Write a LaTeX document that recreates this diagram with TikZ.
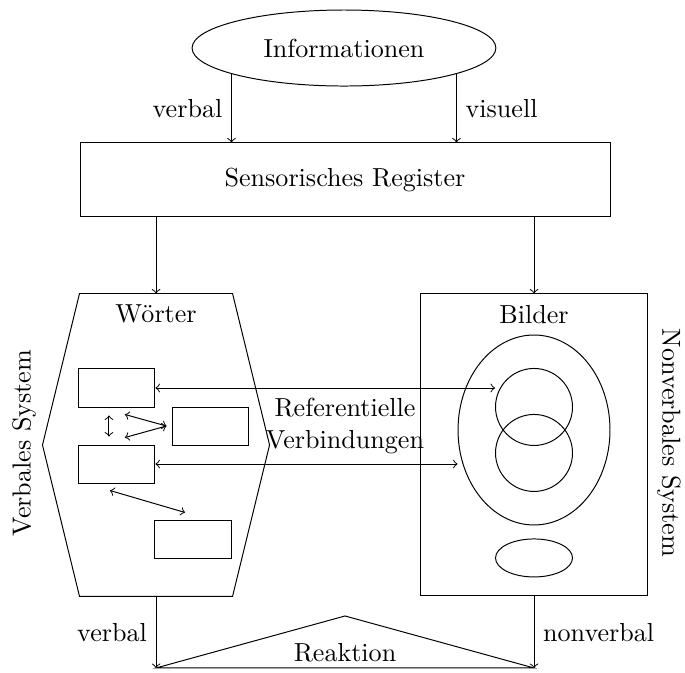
\documentclass[tikz,border=0pt]{standalone}
\usetikzlibrary{shapes.geometric, positioning}

\begin{document}
\fontsize{10.6pt}{12.7pt}\selectfont
\begin{tikzpicture}[
        wbox/.style={rectangle, draw, minimum width=1.086cm,
                     minimum height=0.543cm},
        sysbox/.style={rectangle, minimum width=3.23cm,
                     minimum height=4.314cm, inner sep=0pt},
        arr/.style={->},
        darr/.style={<->}
    ]
        \useasboundingbox (0,0) rectangle (9.786,-9.614);
        % oben
        \node[ellipse, draw, minimum width=4.34cm, minimum height=1.086cm] (info) at (4.914,-0.686) {Informationen};
        \node[rectangle, draw, minimum width=7.571cm, minimum height=1.057cm] (reg) at (4.929,-2.571) {Sensorisches Register};
        \draw[arr] (info.193) -- (info.193 |- reg.north) node[midway, left] {verbal};
        \draw[arr] (info.347) -- (info.347 |- reg.north) node[midway, right] {visuell};
        % die zwei Systeme
        \node[sysbox] (woerter) at (2.229,-6.357) {};
        \node[sysbox, draw] (bilder) at (7.629,-6.357) {};
        \draw (woerter.west) -- ([xshift=0.529cm]woerter.north west) -- ([xshift=-0.529cm]woerter.north east)
            -- (woerter.east) -- ([xshift=-0.529cm]woerter.south east) -- ([xshift=0.529cm]woerter.south west) -- cycle;
        \node[below=1pt of woerter.north] (wlabel) {Wörter};
        \node[below=1pt of bilder.north] (blabel) {Bilder};
        \draw[arr] (reg.south -| woerter.north) -- (woerter.north);
        \draw[arr] (reg.south -| bilder.north) -- (bilder.north);
        \node[rotate=90] (vsys) at (0.343,-6.329) {Verbales System};
        \node[rotate=-90] (nsys) at (9.557,-6.329) {Nonverbales System};
        % verbal
        \node[wbox] (w1) at (1.671,-5.543) {};
        \node[wbox] (w2) at (3.014,-6.086) {};
        \node[wbox] (w3) at (1.671,-6.629) {};
        \node[wbox] (w4) at (2.757,-7.714) {};
        \draw[darr] ([shift={(-0.114,-0.114)}]w1.south) -- ([shift={(-0.114,0.114)}]w3.north);
        \draw[darr] ([shift={(0.114,-0.1)}]w1.south) -- ([xshift=-0.086cm]w2.west);
        \draw[darr] ([shift={(0.114,0.1)}]w3.north) -- ([xshift=-0.086cm]w2.west);
        \draw[darr] ([shift={(-0.1,-0.1)}]w3.south) -- ([shift={(-0.114,0.114)}]w4.north);
        % nonverbal
        \node[ellipse, draw, minimum width=2.171cm, minimum height=2.714cm] (big) at (7.629,-6.143) {};
        \node[circle, draw, minimum size=1.1cm] (c1) at (7.629,-5.814) {};
        \node[circle, draw, minimum size=1.1cm] (c2) at (7.629,-6.471) {};
        \node[ellipse, draw, minimum width=1.1cm, minimum height=0.543cm] (small) at (7.629,-7.971) {};
        % referentielle Verbindungen
        \draw[darr] (w1.east) -- (w1.east -| c1.west);
        \draw[darr] (w3.east) -- (w3.east -| big.west);
        \node[align=center] (ref) at (4.929,-6.086) {Referentielle\\Verbindungen};
        % unten
        \coordinate (rl) at (2.229,-9.543);
        \coordinate (rr) at (7.629,-9.543);
        \coordinate (rtop) at (4.929,-8.8);
        \draw (rl) -- (rtop) -- (rr) -- cycle;
        \node (reak) at (4.929,-9.329) {Reaktion};
        \draw[arr] (woerter.south) -- (rl) node[midway, left] {verbal};
        \draw[arr] (bilder.south) -- (rr) node[midway, right] {nonverbal};
    \end{tikzpicture}
\end{document}
